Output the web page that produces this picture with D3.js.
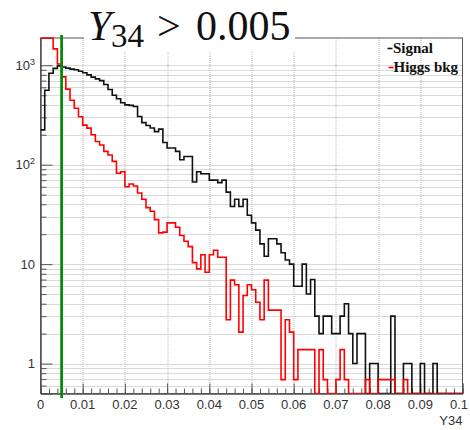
<!DOCTYPE html>
<html>
<head>
<meta charset="utf-8">
<script src="https://cdn.jsdelivr.net/npm/d3@7"></script>
<style>
  html, body { margin: 0; padding: 0; background: #fff; }
  svg { display: block; }
</style>
</head>
<body>
<svg id="chart" width="470" height="430"></svg>
<script>
// Y34 distribution: 100 bins of width 0.001 between 0 and 0.1
const binLow = 0;
const binHigh = 0.1;
const nBins = 100;

// Bin contents, signal sample
const signal = [
  224, 560, 830, 930, 985, 960, 935, 915, 900, 870,
  840, 800, 760, 730, 700, 640, 570, 500, 460, 420,
  400, 395, 385, 305, 265, 248, 234, 215, 228, 167,
  147, 147, 136, 112, 121, 121, 67, 85, 81, 81,
  70, 70, 66, 70, 53, 38, 45, 38, 45, 31,
  26, 22, 16, 12, 18, 18, 16, 13, 11, 10,
  6, 6, 10, 5, 7, 3, 2, 3, 3, 2,
  2, 3, 4, 2, 1, 2, 2, 0, 1, 1,
  0, 0, 0, 3, 0, 0, 1, 1, 0, 0,
  1, 0, 0, 1, 0, 0, 0, 0, 0, 0
];

// Bin contents, Higgs background (weighted events)
const higgsBkg = [
  2900, 2600, 2050, 1460, 1030, 765, 575, 445, 370, 304,
  250, 233, 200, 171, 158, 136, 125, 108, 82, 85,
  60, 64, 61, 52, 45, 37, 34, 28, 20.6, 21,
  26, 26, 23.5, 19.4, 17, 15, 10.35, 8.97, 12.42, 8.28,
  12.42, 13.8, 11.73, 11.73, 2.76, 6.9, 6.21, 2.07, 4.83, 6.21,
  5.52, 4.14, 2.76, 6.9, 3.45, 3.45, 3.45, 0.69, 2.76, 2.07,
  0.69, 1.38, 1.38, 1.38, 1.38, 0, 1.38, 0.69, 0, 0,
  0.69, 1.38, 0.69, 0, 0, 0, 0, 0.69, 0, 0,
  0.69, 0.69, 0.69, 0.69, 0, 0, 0.69, 0, 0, 0,
  0, 0, 0, 0, 0, 0, 0, 0, 0, 0
];

const seriesNames = ["Signal", "Higgs bkg"];
const seriesColors = ["#111111", "#ff0000"];

const xTicks = [0, 0.01, 0.02, 0.03, 0.04, 0.05, 0.06, 0.07, 0.08, 0.09, 0.1];
const xTickLabels = ["0", "0.01", "0.02", "0.03", "0.04", "0.05", "0.06", "0.07", "0.08", "0.09", "0.1"];
const yTicks = [1, 10, 100, 1000];
const yTickLabels = [["1", ""], ["10", ""], ["10", "2"], ["10", "3"]];
const yRange = [0.5, 1880];

const cutValue = 0.005;
const xAxisTitle = "Y34";

// ---- layout ----
const W = 470, H = 430;
const margin = { top: 38, right: 7.5, bottom: 36.5, left: 40.5 };
const innerW = W - margin.left - margin.right;
const innerH = H - margin.top - margin.bottom;

const svg = d3.select("#chart");
const g = svg.append("g").attr("transform", `translate(${margin.left},${margin.top})`);

const x = d3.scaleLinear().domain([binLow, binHigh]).range([0, innerW]);
const y = d3.scaleLog().domain(yRange).range([innerH, 0]).clamp(true);

// ---- grid ----
const minorY = [];
[0.1, 1, 10, 100, 1000].forEach(dec => {
  for (let k = 1; k <= 9; k++) {
    const v = dec * k;
    if (v > yRange[0] && v < yRange[1]) minorY.push(v);
  }
});
const gridStyle = sel => sel.attr("stroke", "#b4b4b4").attr("stroke-width", 1).attr("stroke-dasharray", "1,1");

g.append("g").selectAll("line").data(minorY).join("line")
  .attr("x1", 0).attr("x2", innerW)
  .attr("y1", d => Math.round(y(d)) + 0.5).attr("y2", d => Math.round(y(d)) + 0.5)
  .call(gridStyle);

g.append("g").selectAll("line").data(xTicks.slice(1, -1)).join("line")
  .attr("x1", d => Math.round(x(d)) + 0.5).attr("x2", d => Math.round(x(d)) + 0.5)
  .attr("y1", 0).attr("y2", innerH)
  .call(gridStyle);

// ---- frame ----
g.append("rect").attr("x", 0).attr("y", 0).attr("width", innerW).attr("height", innerH)
  .attr("fill", "none").attr("stroke", "#555").attr("stroke-width", 1);

// ---- axes ----
const axisColor = "#555";
const xMajor = d3.axisBottom(x).tickValues(xTicks).tickSize(-10).tickFormat("");
const xMinor = d3.axisBottom(x).tickValues(d3.range(0, 51).map(i => i * 0.002)).tickSize(-5).tickFormat("");
const yMajor = d3.axisLeft(y).tickValues(yTicks).tickSize(-12).tickFormat("");
const yMinor = d3.axisLeft(y).tickValues(minorY.filter(v => !yTicks.includes(v))).tickSize(-6).tickFormat("");

[[xMajor, `translate(0,${innerH})`], [xMinor, `translate(0,${innerH})`], [yMajor, null], [yMinor, null]]
  .forEach(([ax, tr]) => {
    const a = g.append("g").call(ax);
    if (tr) a.attr("transform", tr);
    a.select(".domain").attr("stroke", axisColor);
    a.selectAll(".tick line").attr("stroke", axisColor);
  });

const labelFont = "'Liberation Sans', Arial, Helvetica, sans-serif";

// last label is nudged left so it stays inside the canvas
g.append("g").selectAll("text").data(xTicks).join("text")
  .attr("x", d => x(d)).attr("y", innerH + 15.5)
  .attr("dx", (d, i) => i === xTicks.length - 1 ? -3.5 : 0)
  .attr("text-anchor", "middle")
  .attr("font-family", labelFont).attr("font-size", 13).attr("fill", "#333")
  .text((d, i) => xTickLabels[i]);

const yLab = g.append("g").selectAll("text").data(yTicks).join("text")
  .attr("x", -5.5).attr("y", d => y(d) + 4.5)
  .attr("text-anchor", "end")
  .attr("font-family", labelFont).attr("font-size", 13).attr("fill", "#333");
yLab.append("tspan").text((d, i) => yTickLabels[i][0]);
yLab.append("tspan").attr("font-size", 9).attr("dy", -5)
  .text((d, i) => yTickLabels[i][1]);

g.append("text").attr("x", innerW).attr("y", innerH + 31.5)
  .attr("text-anchor", "end")
  .attr("font-family", labelFont).attr("font-size", 13).attr("fill", "#333")
  .text(xAxisTitle);

// ---- histograms ----
svg.append("defs").append("clipPath").attr("id", "frameClip")
  .append("rect").attr("x", 0).attr("y", -1).attr("width", innerW).attr("height", innerH + 1);

const binW = (binHigh - binLow) / nBins;
function outline(vals) {
  const pts = [];
  vals.forEach((v, i) => {
    const x0 = binLow + i * binW;
    pts.push([x0, v], [x0 + binW, v]);
  });
  return pts;
}
const histLine = d3.line()
  .x(d => x(d[0]))
  .y(d => y(Math.max(d[1], yRange[0])));

const histG = g.append("g").attr("clip-path", "url(#frameClip)");
[signal, higgsBkg].forEach((vals, k) => {
  histG.append("path")
    .attr("d", histLine(outline(vals)))
    .attr("fill", "none")
    .attr("stroke", seriesColors[k])
    .attr("stroke-width", 1.6)
    .attr("stroke-linejoin", "miter");
});

// ---- title ----
const titleFont = "'Liberation Serif', 'Times New Roman', Times, serif";
svg.append("rect").attr("x", 84).attr("y", 0).attr("width", 211).attr("height", 52).attr("fill", "#fff");
const title = svg.append("text").attr("y", 39.5)
  .attr("font-family", titleFont).attr("font-size", 42).attr("fill", "#111");
title.append("tspan").attr("x", 88).attr("font-style", "italic").text("Y");
title.append("tspan").attr("x", 111).attr("font-size", 33).attr("dy", 7.4).text("34");
title.append("tspan").attr("x", 157).attr("dy", -7.4).text(">");
title.append("tspan").attr("x", 196).text("0.005");

// ---- legend ----
const legend = svg.append("g");
seriesNames.forEach((name, k) => {
  const by = 53 + k * 19;
  legend.append("line")
    .attr("x1", 387.5 + k).attr("x2", 392.5 + k)
    .attr("y1", by - 4.5).attr("y2", by - 4.5)
    .attr("stroke", seriesColors[k]).attr("stroke-width", 1.6);
  legend.append("text").attr("x", 393 + k * 0.5).attr("y", by)
    .attr("font-family", titleFont).attr("font-weight", "bold").attr("font-size", 15).attr("fill", "#111")
    .text(name);
});

// ---- cut line ----
svg.append("line")
  .attr("x1", margin.left + x(cutValue)).attr("x2", margin.left + x(cutValue))
  .attr("y1", 35).attr("y2", 398)
  .attr("stroke", "#0a8a0a").attr("stroke-width", 2.8);
</script>
</body>
</html>
